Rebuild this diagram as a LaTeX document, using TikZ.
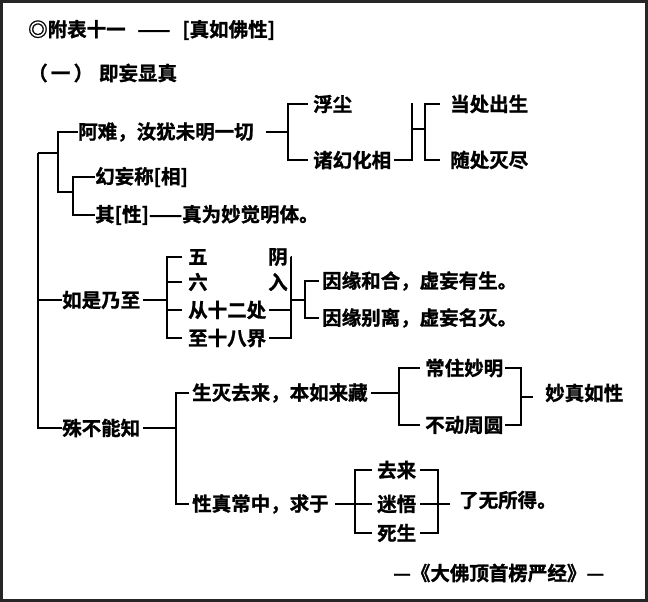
\documentclass[tikz,border=0pt]{standalone}
\usepackage{fontspec}
\setmainfont{Noto Sans CJK SC Bold}[AutoFakeBold=1.2]
\begin{document}
\begin{tikzpicture}[x=1pt,y=-1pt,
  t/.style={anchor=west,inner sep=0pt,font=\fontsize{19.5}{20}\selectfont\bfseries},
  ln/.style={line width=1.9pt}]
\useasboundingbox (0,0) rectangle (648,602);
\draw[line width=2.5pt,black!85] (1.5,1.5) rectangle (646.5,600.5);
\node[t] (title) at (28,30) {◎附表十一\hspace{0.6em}——\hspace{0.6em}[真如佛性]};
\node[t] (h1) at (28,73) {（\,一\,）\hspace{0.3em}即妄显真};
% group 1
\node[t] (a) at (78,132) {阿难，汝犹未明一切};
\node[t] (fc) at (313,104) {浮尘};
\node[t] (zh) at (313,160) {诸幻化相};
\node[t] (dc) at (450,104) {当处出生};
\node[t] (sc) at (450,160) {随处灭尽};
\node[t] (hw) at (95,177) {幻妄称[相]};
\node[t] (qx) at (95,215) {其[性]——真为妙觉明体。};
% group 2
\node[t] (rs) at (62,300) {如是乃至};
\node[t] (w) at (188,257) {五\hspace{3.1em}阴};
\node[t] (l) at (188,282) {六\hspace{3.1em}入};
\node[t] (c) at (188,310) {从十二处};
\node[t] (z) at (188,338) {至十八界};
\node[t] (y1) at (322,281) {因缘和合，虚妄有生。};
\node[t] (y2) at (322,318) {因缘别离，虚妄名灭。};
% group 3
\node[t] (s) at (62,428) {殊不能知};
\node[t] (sm) at (192,393) {生灭去来，本如来藏};
\node[t] (cz) at (425,368) {常住妙明};
\node[t] (bd) at (425,425) {不动周圆};
\node[t] (mz) at (545,393) {妙真如性};
\node[t] (xz) at (192,504) {性真常中，求于};
\node[t] (ql) at (377,470) {去来};
\node[t] (mw) at (377,504) {迷悟};
\node[t] (ss) at (377,533) {死生};
\node[t] (lw) at (459,500) {了无所得。};
\node[t] (src) at (393,573) {—《大佛顶首楞严经》—};
% main trunk
\draw[ln] (a.west) -- (58,132) -- (58,192) -- (73,192);
\draw[ln] (38,153) -- (58,153);
\draw[ln] (hw.west) -- (73,177) -- (73,215) -- (qx.west);
\draw[ln] (38,153) -- (38,428) -- (s.west);
\draw[ln] (38,300) -- (rs.west);
% group1 brackets
\draw[ln] ([xshift=12pt]a.east) -- (288,132);
\draw[ln] ([xshift=-5pt]fc.west) -- (288,104) -- (288,160) -- ([xshift=-5pt]zh.west);
\draw[ln] ([xshift=60pt]fc.east) -- (412,104) -- (412,160) -- ([xshift=3pt]zh.east);
\draw[ln] (412,129) -- (425,129);
\draw[ln] ([xshift=-10pt]dc.west) -- (425,104) -- (425,160) -- ([xshift=-10pt]sc.west);
% group2
\draw[ln] ([xshift=3pt]rs.east) -- (167,300);
\draw[ln] ([xshift=-6pt]w.west) -- (167,257) -- (167,338) -- ([xshift=-6pt]z.west);
\draw[ln] ([xshift=-6pt]l.west) -- (167,282);
\draw[ln] ([xshift=-6pt]c.west) -- (167,310);
\draw[ln] ([xshift=3pt]w.east) -- (291,257) -- (291,338) -- ([xshift=3pt]z.east);
\draw[ln] ([xshift=3pt]l.east) -- (291,282);
\draw[ln] ([xshift=3pt]c.east) -- (291,310);
\draw[ln] (291,300) -- (305,300);
\draw[ln] ([xshift=-3pt]y1.west) -- (305,281) -- (305,318) -- ([xshift=-3pt]y2.west);
% group3
\draw[ln] ([xshift=3pt]s.east) -- (176,428);
\draw[ln] ([xshift=-3pt]sm.west) -- (176,393) -- (176,504) -- ([xshift=-3pt]xz.west);
\draw[ln] ([xshift=3pt]sm.east) -- (399,393);
\draw[ln] ([xshift=-5pt]cz.west) -- (399,368) -- (399,425) -- ([xshift=-5pt]bd.west);
\draw[ln] ([xshift=2pt]cz.east) -- (521,368) -- (521,425) -- ([xshift=2pt]bd.east);
\draw[ln] (521,397) -- (533,397);
\draw[ln] ([xshift=6pt]xz.east) -- (355,504);
\draw[ln] ([xshift=-5pt]ql.west) -- (355,470) -- (355,533) -- ([xshift=-5pt]ss.west);
\draw[ln] ([xshift=-5pt]mw.west) -- (355,504);
\draw[ln] ([xshift=4pt]ql.east) -- (438,470) -- (438,533) -- ([xshift=4pt]ss.east);
\draw[ln] ([xshift=4pt]mw.east) -- (438,504) -- (450,504);
\end{tikzpicture}
\end{document}
